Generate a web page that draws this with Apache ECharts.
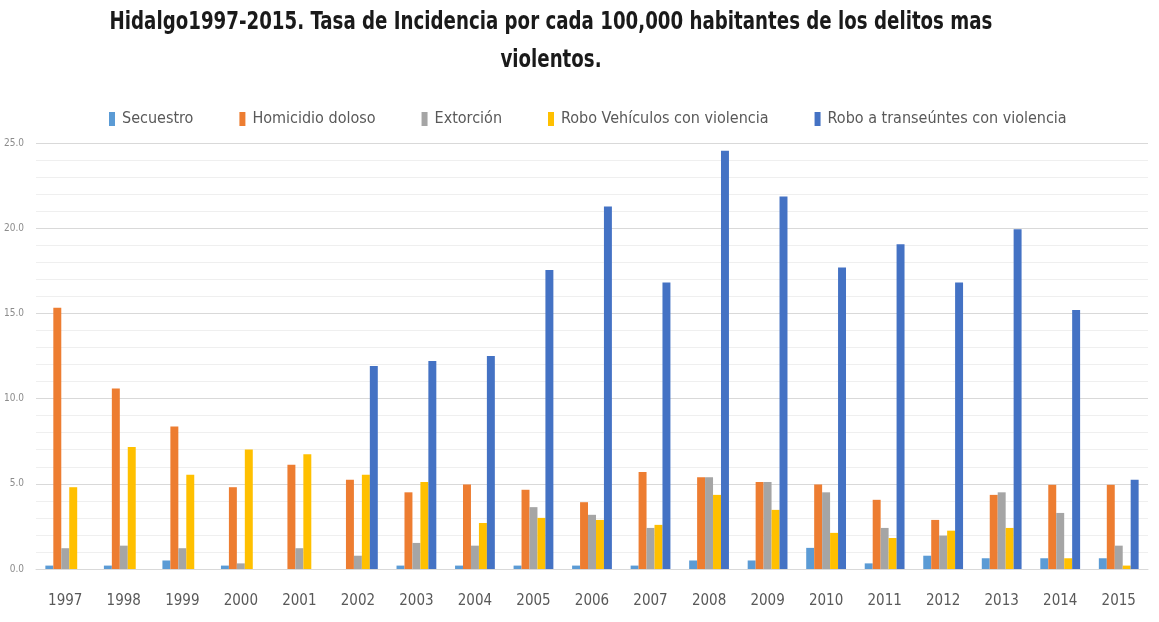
<!DOCTYPE html>
<html>
<head>
<meta charset="utf-8">
<script src="https://cdn.jsdelivr.net/npm/echarts@6/dist/echarts.min.js"></script>
<style>
  html, body { margin: 0; padding: 0; background: #ffffff; }
  #chart { width: 1159px; height: 622px; }
</style>
</head>
<body>
<div id="chart"></div>
<script>
// Years on the category axis
const years = ['1997','1998','1999','2000','2001','2002','2003','2004','2005','2006',
               '2007','2008','2009','2010','2011','2012','2013','2014','2015'];

// Incidence rate per 100,000 inhabitants, one array per crime
const secuestro = [0.2, 0.2, 0.5, 0.2, 0, 0, 0.2, 0.2, 0.2, 0.2,
                   0.2, 0.5, 0.5, 1.24, 0.33, 0.78, 0.63, 0.63, 0.63];
const homicidioDoloso = [15.33, 10.6, 8.37, 4.8, 6.12, 5.24, 4.5, 4.96, 4.65, 3.92,
                         5.69, 5.39, 5.1, 4.96, 4.06, 2.88, 4.35, 4.94, 4.94];
const extorcion = [1.22, 1.37, 1.22, 0.33, 1.22, 0.78, 1.53, 1.37, 3.63, 3.18,
                   2.41, 5.39, 5.1, 4.5, 2.41, 1.96, 4.5, 3.29, 1.37];
const roboVehiculos = [4.8, 7.16, 5.53, 7.02, 6.73, 5.53, 5.1, 2.7, 3.0, 2.88,
                       2.59, 4.35, 3.47, 2.12, 1.82, 2.25, 2.41, 0.63, 0.2];
const roboTranseuntes = [0, 0, 0, 0, 0, 11.92, 12.2, 12.5, 17.55, 21.27,
                         16.82, 24.55, 21.86, 17.7, 19.06, 16.82, 19.94, 15.2, 5.24];

const seriesNames = ['Secuestro', 'Homicidio doloso', 'Extorción',
                     'Robo Vehículos con violencia', 'Robo a transeúntes con violencia'];
const seriesData = [secuestro, homicidioDoloso, extorcion, roboVehiculos, roboTranseuntes];
const seriesColors = ['#5B9BD5', '#ED7D31', '#A5A5A5', '#FFC000', '#4472C4'];

const titleText = 'Hidalgo1997-2015. Tasa de Incidencia por cada 100,000 habitantes de los delitos mas\nviolentos.';

const FONT = '"Liberation Sans Narrow", "DejaVu Sans Condensed", "Liberation Sans", sans-serif';

const chart = echarts.init(document.getElementById('chart'), null, { renderer: 'canvas' });

chart.setOption({
  animation: false,
  backgroundColor: '#ffffff',
  // Condensed bold two-line heading, squeezed horizontally around its centre
  graphic: [{
    type: 'text',
    x: 551,
    y: 3,
    scaleX: 0.81,
    style: {
      text: titleText,
      font: 'bold 25px ' + FONT,
      lineHeight: 38,
      fill: '#1a1a1a',
      align: 'center',
      verticalAlign: 'top'
    }
  }],
  legend: {
    top: 106,
    left: 104,
    itemWidth: 6,
    itemHeight: 14,
    itemGap: 46,
    icon: 'rect',
    textStyle: { fontFamily: FONT, fontSize: 16, color: '#595959', padding: [0, 0, 0, 2] },
    data: seriesNames
  },
  grid: { left: 36, right: 11, top: 143, bottom: 53 },
  xAxis: {
    type: 'category',
    data: years,
    axisLine: { show: true, lineStyle: { color: '#d9d9d9', width: 1 } },
    axisTick: { show: false },
    axisLabel: { fontFamily: FONT, fontSize: 15, color: '#595959', margin: 25 }
  },
  yAxis: {
    type: 'value',
    min: 0,
    max: 25,
    interval: 5,
    axisLine: { show: false },
    axisTick: { show: false },
    axisLabel: {
      fontFamily: FONT, fontSize: 10, color: '#8c8c8c', margin: 12,
      formatter: v => v.toFixed(1)
    },
    splitLine: { lineStyle: { color: '#d9d9d9', width: 1 } },
    minorTick: { show: false, splitNumber: 5 },
    minorSplitLine: { show: true, lineStyle: { color: '#efefef', width: 1 } }
  },
  series: seriesData.map((d, i) => ({
    name: seriesNames[i],
    type: 'bar',
    data: d,
    barGap: '0%',
    barCategoryGap: '32%',
    itemStyle: { color: seriesColors[i] }
  }))
});
</script>
</body>
</html>
